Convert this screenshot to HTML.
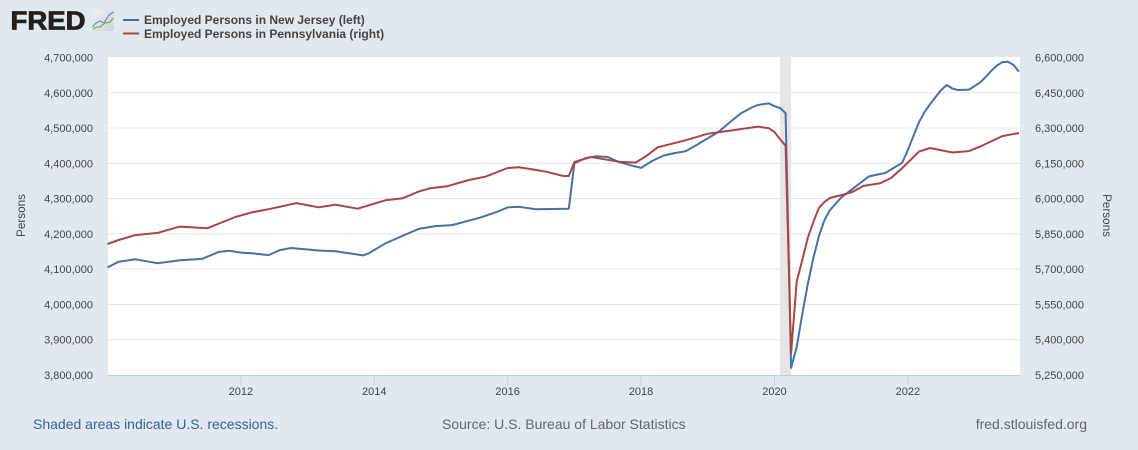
<!DOCTYPE html>
<html lang="en">
<head>
<meta charset="utf-8">
<title>Employed Persons in New Jersey and Pennsylvania</title>
<style>
html,body{margin:0;padding:0;background:#e1e9f0;}
svg{display:block;font-family:"Liberation Sans",Arial,sans-serif;}
</style>
</head>
<body>
<svg id="chart" width="1138" height="450" viewBox="0 0 1138 450" xmlns="http://www.w3.org/2000/svg">
  <defs>
    <linearGradient id="logoFill" x1="0" y1="0" x2="1" y2="1">
      <stop offset="0" stop-color="#eef1f2"/>
      <stop offset="1" stop-color="#ccd3d6"/>
    </linearGradient>
  </defs>
  <rect x="0" y="0" width="1138" height="450" fill="#e1e9f0"/>
  <g>
    <text x="10.5" y="29.6" font-size="26" font-weight="bold" fill="#231f20" stroke="#231f20" stroke-width="0.8" textLength="75" lengthAdjust="spacingAndGlyphs">FRED</text>
    <rect x="92" y="10" width="22" height="21" rx="2" fill="url(#logoFill)"/>
    <polyline points="92.5,27 96,23 100,21 104,23 109,15 113.5,12" fill="none" stroke="#5f8fb5" stroke-width="1.2"/>
    <polyline points="93,29 97,27 100,27 105,23 110,22 113.5,18" fill="none" stroke="#86a858" stroke-width="1.2"/>
  </g>
  <g>
    <line x1="123" x2="139" y1="20" y2="20" stroke="#4572a7" stroke-width="2"/>
    <text x="144" y="24" font-size="12" font-weight="bold" fill="#444">Employed Persons in New Jersey (left)</text>
    <line x1="123" x2="139" y1="33.5" y2="33.5" stroke="#aa4643" stroke-width="2"/>
    <text x="144" y="38" font-size="12" font-weight="bold" fill="#444">Employed Persons in Pennsylvania (right)</text>
  </g>
  <rect x="108" y="57" width="912" height="318" fill="#ffffff"/>
  <g id="recessions"></g>
  <g id="grid"></g>
  <g id="axes"></g>
  <g id="series"></g>
  <text transform="translate(25,215.5) rotate(-90)" text-anchor="middle" font-size="11.7" fill="#444">Persons</text>
  <text transform="translate(1103,215.5) rotate(90)" text-anchor="middle" font-size="11.7" fill="#444">Persons</text>
  <text x="33" y="429" font-size="14" fill="#3a6199">Shaded areas indicate U.S. recessions.</text>
  <text x="442" y="429" font-size="14" fill="#666">Source: U.S. Bureau of Labor Statistics</text>
  <text x="1087" y="429" text-anchor="end" font-size="14" fill="#666">fred.stlouisfed.org</text>
</svg>
<script>
const leftTicks = [3800000, 3900000, 4000000, 4100000, 4200000, 4300000, 4400000, 4500000, 4600000, 4700000];
const rightTicks = [5250000, 5400000, 5550000, 5700000, 5850000, 6000000, 6150000, 6300000, 6450000, 6600000];
const xTickLabels = ['2012', '2014', '2016', '2018', '2020', '2022'];
const recessionStarts = ['2020-02'];
const recessionEnds = ['2020-04'];

const njDates = ['2010-01','2010-03','2010-06','2010-10','2011-02','2011-06','2011-09','2011-11','2012-01','2012-03','2012-06','2012-08','2012-10','2013-03','2013-06','2013-11','2013-12','2014-03','2014-06','2014-09','2014-12','2015-03','2015-08','2015-11','2016-01','2016-03','2016-06','2016-12','2017-01','2017-03','2017-05','2017-07','2017-09','2017-11','2018-01','2018-03','2018-05','2018-07','2018-09','2018-11','2019-03','2019-05','2019-07','2019-09','2019-10','2019-11','2019-12','2020-01','2020-02','2020-03','2020-04','2020-05','2020-06','2020-07','2020-08','2020-09','2020-10','2020-11','2021-01','2021-03','2021-06','2021-09','2021-12','2022-01','2022-03','2022-04','2022-05','2022-06','2022-07','2022-08','2022-09','2022-10','2022-12','2023-02','2023-03','2023-04','2023-05','2023-06','2023-07','2023-08','2023-09'];
const njValues = [4105,4121,4128,4117,4125,4129,4149,4152,4147,4145,4140,4154,4160,4153,4151,4139,4145,4173,4194,4214,4222,4225,4246,4262,4275,4277,4270,4271,4400,4415,4420,4418,4404,4395,4387,4407,4422,4429,4434,4452,4490,4517,4542,4559,4565,4568,4570,4562,4557,4542,3820,3879,3973,4058,4132,4194,4239,4268,4303,4327,4363,4373,4402,4438,4517,4545,4568,4588,4608,4622,4612,4608,4609,4629,4645,4662,4677,4687,4688,4679,4660];

const paDates = ['2010-01','2010-03','2010-06','2010-10','2011-02','2011-07','2011-12','2012-03','2012-06','2012-11','2013-03','2013-06','2013-10','2014-03','2014-06','2014-09','2014-11','2015-02','2015-06','2015-09','2016-01','2016-03','2016-06','2016-08','2016-11','2016-12','2017-01','2017-04','2017-09','2017-12','2018-02','2018-04','2018-09','2019-01','2019-06','2019-10','2019-12','2020-01','2020-02','2020-03','2020-04','2020-05','2020-06','2020-07','2020-08','2020-09','2020-10','2020-11','2021-01','2021-03','2021-05','2021-08','2021-10','2021-12','2022-03','2022-05','2022-09','2022-12','2023-02','2023-06','2023-09'];
const paValues = [5807,5824,5845,5854,5881,5874,5922,5942,5955,5981,5963,5974,5957,5993,6001,6030,6044,6052,6079,6093,6130,6133,6122,6114,6096,6096,6156,6177,6157,6153,6182,6218,6248,6276,6292,6306,6299,6283,6253,6225,5344,5647,5739,5833,5901,5960,5986,6003,6015,6028,6054,6065,6088,6130,6200,6215,6196,6202,6221,6266,6279];

const NS = 'http://www.w3.org/2000/svg';
const fmt = v => String(v).replace(/\B(?=(\d{3})+$)/g, ',');
const months = d => { const p = d.split('-'); return (+p[0] - 2010) * 12 + (+p[1] - 1); };
const xScale = d => 107.5 + months(d) * 5.558;
const leftScale = v => 375 - (v - 3800000) / 900000 * 317.5;
const rightScale = v => 375 - (v - 5250000) / 1350000 * 317.5;
const make = (tag, attrs, parent) => {
  const el = document.createElementNS(NS, tag);
  for (const k in attrs) el.setAttribute(k, attrs[k]);
  parent.appendChild(el);
  return el;
};

const recG = document.getElementById('recessions');
recessionStarts.forEach((s, i) => {
  const x0 = xScale(s), x1 = xScale(recessionEnds[i]);
  const r = make('rect', { x: x0, y: 57, width: x1 - x0, height: 318, fill: '#e6e6e6' }, recG);
  
  
});

const gridG = document.getElementById('grid');
const axesG = document.getElementById('axes');
leftTicks.forEach(v => {
  const y = leftScale(v);
  if (v > leftTicks[0] && v < leftTicks[leftTicks.length - 1]) {
    const g = make('line', { x1: 108, x2: 1020, y1: y, y2: y, stroke: '#e6e6e6', 'stroke-width': 1 }, gridG);
    
    
  }
  const t = make('text', { x: 93, y: y + 4, 'text-anchor': 'end', 'font-size': 11, fill: '#444' }, axesG);
  
  
  t.textContent = fmt(v);
});
rightTicks.forEach(v => {
  const y = rightScale(v);
  const t = make('text', { x: 1035, y: y + 4, 'font-size': 11, fill: '#444' }, axesG);
  
  
  t.textContent = fmt(v);
});
const axisLine = make('line', { x1: 108, x2: 1020, y1: 375.5, y2: 375.5, stroke: '#c0d0e0', 'stroke-width': 1 }, axesG);


xTickLabels.forEach(label => {
  const x = xScale(label + '-01');
  const m = make('line', { x1: x, x2: x, y1: 375, y2: 385, stroke: '#c0d0e0', 'stroke-width': 1 }, axesG);
  
  
  const t = make('text', { x: x, y: 395, 'text-anchor': 'middle', 'font-size': 11, fill: '#444' }, axesG);
  
  
  t.textContent = label;
});

const seriesG = document.getElementById('series');
const pathOf = (dates, values, y) => dates.map((d, i) =>
  (i ? 'L' : 'M') + xScale(d).toFixed(1) + ' ' + y(values[i] * 1000).toFixed(1)).join(' ');
const njLine = make('path', { d: pathOf(njDates, njValues, leftScale), fill: 'none', stroke: '#4572a7', 'stroke-width': 2, 'stroke-linejoin': 'round' }, seriesG);


const paLine = make('path', { d: pathOf(paDates, paValues, rightScale), fill: 'none', stroke: '#aa4643', 'stroke-width': 2, 'stroke-linejoin': 'round' }, seriesG);


</script>
</body>
</html>
